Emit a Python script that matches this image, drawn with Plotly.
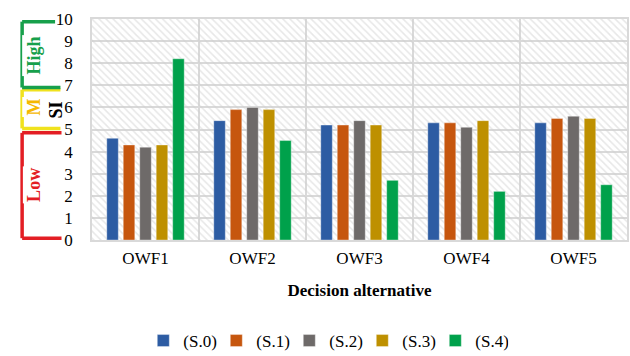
import plotly.graph_objects as go

categories = ["OWF1", "OWF2", "OWF3", "OWF4", "OWF5"]
series_names = ["(S.0)", "(S.1)", "(S.2)", "(S.3)", "(S.4)"]
s0 = [4.6, 5.4, 5.2, 5.3, 5.3]
s1 = [4.3, 5.9, 5.2, 5.3, 5.5]
s2 = [4.2, 6.0, 5.4, 5.1, 5.6]
s3 = [4.3, 5.9, 5.2, 5.4, 5.5]
s4 = [8.2, 4.5, 2.7, 2.2, 2.5]
y_ticks = list(range(0, 11))
y_max = 10

series_values = [s0, s1, s2, s3, s4]
colors = ["#2D5CA3", "#C6560E", "#6E6A69", "#BE9000", "#00A14B"]

FONT = "Liberation Serif, Times New Roman, serif"
GRID = "#d9d9d9"

fig = go.Figure()

# hatched plot background (drawn on base axes)
fig.add_trace(go.Bar(
    x=categories, y=[y_max] * len(categories), width=1,
    marker=dict(color="rgba(0,0,0,0)", line=dict(width=0),
                pattern=dict(shape="\\", fgcolor="#cfcfcf", bgcolor="rgba(0,0,0,0)",
                             size=5, solidity=0.3)),
    showlegend=False, hoverinfo="skip", xaxis="x", yaxis="y"))

for name, vals, col in zip(series_names, series_values, colors):
    fig.add_trace(go.Bar(
        x=categories, y=vals, name=name,
        marker=dict(color=col, line=dict(width=0.6, color="rgba(255,255,255,0.6)")),
        xaxis="x2", yaxis="y2"))

fig.update_layout(
    width=630, height=356,
    margin=dict(l=92, r=3, t=19, b=116, autoexpand=False),
    paper_bgcolor="white", plot_bgcolor="white",
    font=dict(family=FONT, size=17, color="black"),
    barmode="group", bargap=0.23, bargroupgap=0.3,
    showlegend=True,
    legend=dict(orientation="h", x=0.437, xanchor="center", y=-0.457, yanchor="middle",
                font=dict(size=17), itemwidth=30, traceorder="normal",
                entrywidth=28, entrywidthmode="pixels"),
    xaxis=dict(type="category", range=[-0.5, 4.5], tickson="boundaries", automargin=False,
               showgrid=True, gridcolor=GRID, gridwidth=1.5,
               showline=True, linecolor=GRID, linewidth=1.5, mirror=True,
               ticks="", tickfont=dict(size=17), ticklabelstandoff=2,
               title=dict(text="<b>Decision alternative</b>", font=dict(size=17), standoff=17)),
    yaxis=dict(range=[0, y_max], tickvals=y_ticks, showgrid=True, gridcolor=GRID, gridwidth=1.5,
               showline=True, linecolor=GRID, linewidth=1.5, mirror=True, zeroline=False,
               automargin=False, ticks="", tickfont=dict(size=17), ticklabelstandoff=14),
    xaxis2=dict(type="category", overlaying="x", range=[-0.5, 4.5], visible=False),
    yaxis2=dict(overlaying="y", range=[0, y_max], visible=False),
)

# left-side category brackets
XL, XR = -0.1306, -0.057
brackets = [
    ("#E31E24", 0.08, 4.85, XR, XR, "Low", 2.5, "#E31E24"),
    ("#F0E21E", 5.05, 6.8, -0.059, -0.059, "M", 6.0, "#F5B800"),
    ("#17A04B", 6.9, 9.88, -0.059, -0.069, "High", 8.35, "#17A04B"),
]
for col, y0, y1, xr0, xr1, label, ly, tcol in brackets:
    fig.add_shape(type="line", xref="paper", yref="y", x0=XL, x1=XL, y0=y0, y1=y1,
                  line=dict(color=col, width=3.5))
    fig.add_shape(type="line", xref="paper", yref="y", x0=XL, x1=xr0, y0=y0, y1=y0,
                  line=dict(color=col, width=3.5))
    fig.add_shape(type="line", xref="paper", yref="y", x0=XL, x1=xr1, y0=y1, y1=y1,
                  line=dict(color=col, width=3.5))
    fig.add_annotation(xref="paper", yref="y", x=XL, y=ly, text="<b>" + label + "</b>",
                       textangle=-90, showarrow=False, bgcolor="white",
                       font=dict(family=FONT, size=18, color=tcol), borderpad=1)

fig.add_annotation(xref="paper", yref="y", x=-0.09, y=5.9, text="<b>SI</b>",
                   textangle=-90, showarrow=False,
                   font=dict(family=FONT, size=18, color="black"))

fig.write_html("out.html", config={"displayModeBar": False},
               post_script="document.body.style.margin='0';")
